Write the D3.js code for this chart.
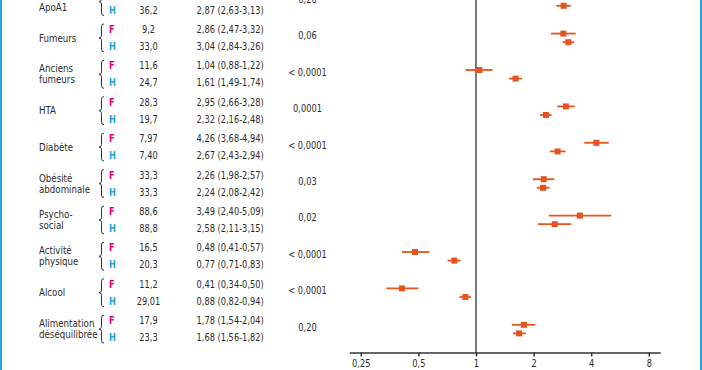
<!DOCTYPE html>
<html><head><meta charset="utf-8">
<script src="https://cdn.jsdelivr.net/npm/d3@7"></script>
<style>
html,body{margin:0;padding:0;background:#fff;}
svg{display:block;}
text{font-family:"DejaVu Sans Condensed","DejaVu Sans",sans-serif;fill:#2b2b2b;}
</style></head>
<body>
<svg id="chart" width="702" height="370"></svg>
<script>
// ---- data ----
const groups = [["","ApoA1"],["Fumeurs"],["Anciens","fumeurs"],["HTA"],["Diabète"],["Obésité","abdominale"],["Psycho-","social"],["Activité","physique"],["Alcool"],["Alimentation","déséquilibrée"]];
const pctF = [null,"9,2","11,6","28,3","7,97","33,3","88,6","16,5","11,2","17,9"];
const pctH = ["36,2","33,0","24,7","19,7","7,40","33,3","88,8","20,3","29,01","23,3"];
const orF  = [null,2.86,1.04,2.95,4.26,2.26,3.49,0.48,0.41,1.78];
const loF  = [null,2.47,0.88,2.66,3.68,1.98,2.40,0.41,0.34,1.54];
const hiF  = [null,3.32,1.22,3.28,4.94,2.57,5.09,0.57,0.50,2.04];
const orH  = [2.87,3.04,1.61,2.32,2.67,2.24,2.58,0.77,0.88,1.68];
const loH  = [2.63,2.84,1.49,2.16,2.43,2.08,2.11,0.71,0.82,1.56];
const hiH  = [3.13,3.26,1.74,2.48,2.94,2.42,3.15,0.83,0.94,1.82];
const pvals = ["0,20","0,06","< 0,0001","0,0001","< 0,0001","0,03","0,02","< 0,0001","< 0,0001","0,20"];
const tickVals = [0.25,0.5,1,2,4,8];
const tickLabels = ["0,25","0,5","1","2","4","8"];

// ---- layout ----
const svg = d3.select("#chart");
const W = 702, H = 370;
const axisY = 352.5;
const SX = 0.92;
const magenta = "#e2007a", cyan = "#1aa3dc", orange = "#e5531f";

const y = d3.scalePoint().domain(d3.range(groups.length)).range([1.5, 329.1]);
const x = d3.scaleLog().base(2).domain([0.25/Math.pow(2,0.2), 8*Math.pow(2,0.2)]).range([349.3, 660.3]);
const fmt = v => d3.format(".2f")(v).replace(".", ",");

function txt(g, tx, ty, s, size, anchor){
  return g.append("text")
    .attr("transform", `translate(${tx},${ty}) scale(${SX},1)`)
    .attr("dy","0.35em").attr("font-size", size)
    .attr("text-anchor", anchor || "start").text(s);
}

// borders
svg.append("rect").attr("x",0).attr("y",0).attr("width",2).attr("height",H).attr("fill","#27a6df");
svg.append("rect").attr("x",700).attr("y",0).attr("width",2).attr("height",H).attr("fill","#27a6df");

const rows = [];
groups.forEach((g,i)=>{
  rows.push({i, sex:"F", pct:pctF[i], or:orF[i], lo:loF[i], hi:hiF[i]});
  rows.push({i, sex:"H", pct:pctH[i], or:orH[i], lo:loH[i], hi:hiH[i]});
});
const txtOff = s => s==="F" ? -8.5 : 8.5;
const mkOff = s => s==="F" ? -4.3 : 4.3;

// group labels, braces, p values
const gl = svg.append("g");
groups.forEach((lines,i)=>{
  const n = lines.length, lh = 11;
  lines.forEach((t,k)=>{
    if (!t) return;
    txt(gl, 39, y(i) + (k-(n-1)/2)*lh, t, 10.5);
  });
  const y0 = y(i)-14, y1 = y(i)+14, ym = y(i);
  const xl = 99, xm = 101.5, xr = 104, r = 2.5;
  const p = `M${xr},${y0} Q${xm},${y0} ${xm},${y0+r} L${xm},${ym-r} Q${xm},${ym} ${xl},${ym} Q${xm},${ym} ${xm},${ym+r} L${xm},${y1-r} Q${xm},${y1} ${xr},${y1}`;
  gl.append("path").attr("d",p).attr("fill","none").attr("stroke","#333").attr("stroke-width",1);
  txt(gl, 307.5, y(i)-2, pvals[i], 10, "middle");
});

// row texts
const rt = svg.append("g");
rows.forEach(d=>{
  if (d.pct===null) return;
  const yy = y(d.i)+txtOff(d.sex);
  txt(rt, 109, yy, d.sex, 10).attr("font-weight","bold")
    .style("fill", d.sex==="F"?magenta:cyan);
  txt(rt, 148.5, yy, d.pct, 10, "middle");
  txt(rt, 196.5, yy, `${fmt(d.or)} (${fmt(d.lo)}-${fmt(d.hi)})`, 10);
});

// reference line
svg.append("line").attr("x1",x(1)).attr("x2",x(1)).attr("y1",0).attr("y2",axisY)
  .attr("stroke","#7a7a7a").attr("stroke-width",2);

// axis
const ax = svg.append("g").attr("transform",`translate(0,${axisY})`)
  .call(d3.axisBottom(x).tickValues(tickVals).tickSize(4).tickSizeOuter(0)
    .tickFormat((d,k)=>tickLabels[k]));
ax.select(".domain").attr("stroke","#333").attr("stroke-width",1.5);
ax.selectAll(".tick line").attr("stroke","#333").attr("stroke-width",1.5);
ax.selectAll(".tick text").attr("font-family",null).attr("font-size",10)
  .attr("y",11.5).attr("dy","0.35em").attr("transform",`scale(${SX},1)`).style("fill","#2b2b2b");

// markers
const mk = svg.append("g");
rows.filter(d=>d.or!==null).forEach(d=>{
  const yy = y(d.i)+mkOff(d.sex);
  mk.append("line").attr("x1",x(d.lo)).attr("x2",x(d.hi)).attr("y1",yy).attr("y2",yy)
    .attr("stroke",orange).attr("stroke-width",1.8);
  mk.append("rect").attr("x",x(d.or)-3).attr("y",yy-3).attr("width",6).attr("height",6).attr("fill",orange);
});
</script>
</body></html>
